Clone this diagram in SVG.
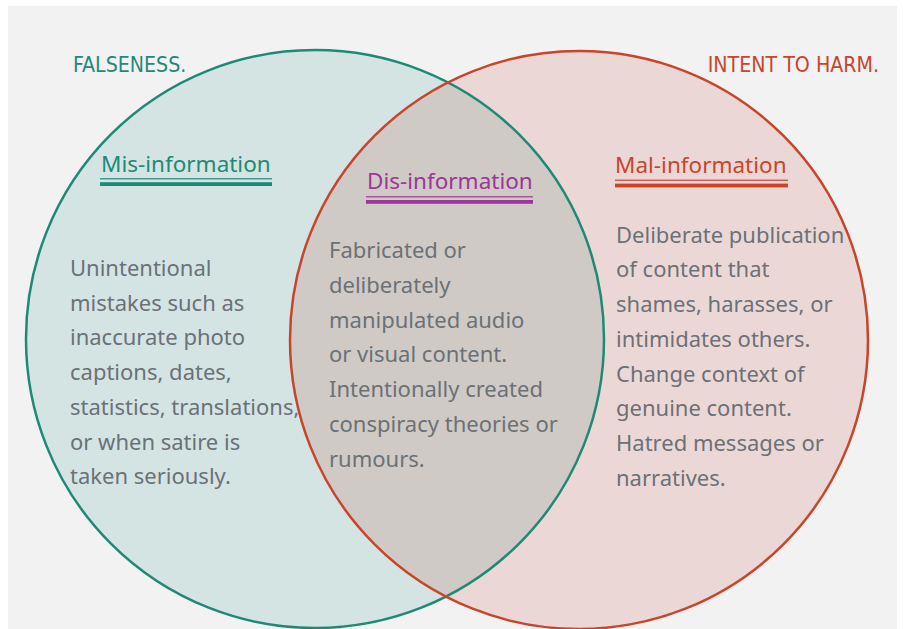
<svg xmlns="http://www.w3.org/2000/svg" width="903" height="629" viewBox="0 0 903 629">
  <style>
    .body { font-family: "Noto Sans", "Open Sans", sans-serif; font-size: 22px; fill: #6b7177; }
    .head { font-family: "Noto Sans", "Open Sans", sans-serif; font-size: 22.5px; }
    .cap { font-family: "DejaVu Sans Condensed", "DejaVu Sans", sans-serif; font-stretch: condensed; font-size: 21.2px; }
    .teal { fill: #1e8a76; }
    .red { fill: #c8452c; }
    .purple { fill: #9b3796; }
  </style>
  <defs>
    <clipPath id="clipFalse">
      <circle cx="315" cy="339" r="289"/>
    </clipPath>
  </defs>

  <!-- canvas -->
  <rect x="8" y="6" width="889" height="623" fill="#f2f2f2"/>

  <!-- circle fills and shared overlap -->
  <g id="fills">
    <circle cx="315" cy="339" r="289" fill="#d3e4e3"/>
    <circle cx="579" cy="340" r="289" fill="#ebd8d6"/>
    <circle cx="579" cy="340" r="289" fill="#cfcac5" clip-path="url(#clipFalse)"/>
  </g>

  <!-- circle outlines -->
  <g id="outlines" fill="none" stroke-width="2.5">
    <circle cx="315" cy="339" r="289" stroke="#1e8a76"/>
    <circle cx="579" cy="340" r="289" stroke="#c8452c"/>
  </g>

  <!-- set captions -->
  <g id="falseness">
    <text class="cap teal" x="73" y="72">FALSENESS.</text>
  </g>
  <g id="intent">
    <text class="cap red" x="879" y="72" text-anchor="end">INTENT TO HARM.</text>
  </g>

  <!-- Mis-information -->
  <g id="mis-information">
    <text class="head teal" x="101" y="172">Mis-information</text>
    <rect class="teal" x="100" y="178.2" width="172" height="1.2"/>
    <rect class="teal" x="100" y="182.2" width="172" height="3.8"/>
    <text class="body" x="70" y="276">
      <tspan x="70" y="276">Unintentional</tspan>
      <tspan x="70" y="310.7">mistakes such as</tspan>
      <tspan x="70" y="345.4">inaccurate photo</tspan>
      <tspan x="70" y="380.1">captions, dates,</tspan>
      <tspan x="70" y="414.8">statistics, translations,</tspan>
      <tspan x="70" y="449.5">or when satire is</tspan>
      <tspan x="70" y="484.2">taken seriously.</tspan>
    </text>
  </g>

  <!-- Dis-information -->
  <g id="dis-information">
    <text class="head purple" x="367" y="189">Dis-information</text>
    <rect class="purple" x="366" y="196.2" width="167" height="1.2"/>
    <rect class="purple" x="366" y="200" width="167" height="3.8"/>
    <text class="body" x="329" y="258.3">
      <tspan x="329" y="258.3">Fabricated or</tspan>
      <tspan x="329" y="293">deliberately</tspan>
      <tspan x="329" y="327.7">manipulated audio</tspan>
      <tspan x="329" y="362.4">or visual content.</tspan>
      <tspan x="329" y="397.1">Intentionally created</tspan>
      <tspan x="329" y="431.8">conspiracy theories or</tspan>
      <tspan x="329" y="466.5">rumours.</tspan>
    </text>
  </g>

  <!-- Mal-information -->
  <g id="mal-information">
    <text class="head red" x="615" y="173">Mal-information</text>
    <rect class="red" x="615" y="179.6" width="173" height="1.2"/>
    <rect class="red" x="615" y="183.6" width="173" height="3.8"/>
    <text class="body" x="616" y="242.7">
      <tspan x="616" y="242.7">Deliberate publication</tspan>
      <tspan x="616" y="277.4">of content that</tspan>
      <tspan x="616" y="312.1">shames, harasses, or</tspan>
      <tspan x="616" y="346.8">intimidates others.</tspan>
      <tspan x="616" y="381.5">Change context of</tspan>
      <tspan x="616" y="416.2">genuine content.</tspan>
      <tspan x="616" y="450.9">Hatred messages or</tspan>
      <tspan x="616" y="485.6">narratives.</tspan>
    </text>
  </g>
</svg>
